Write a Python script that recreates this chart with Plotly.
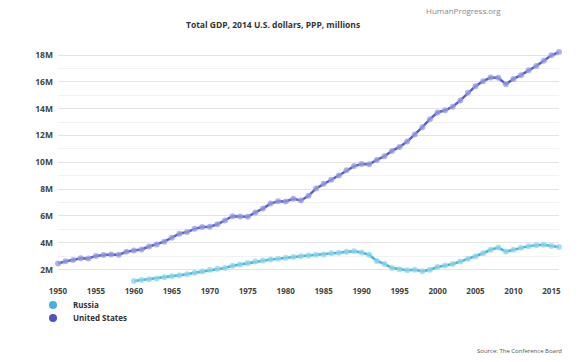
import plotly.graph_objects as go

years_us = list(range(1950, 2017))
us_gdp = [2.45, 2.62, 2.72, 2.84, 2.83, 3.02, 3.08, 3.13, 3.10, 3.33,
          3.42, 3.50, 3.72, 3.88, 4.08, 4.38, 4.68, 4.80, 5.04, 5.18,
          5.20, 5.38, 5.66, 5.98, 5.96, 5.94, 6.26, 6.55, 6.92, 7.10,
          7.08, 7.28, 7.15, 7.50, 8.05, 8.40, 8.70, 9.02, 9.40, 9.72,
          9.88, 9.85, 10.18, 10.45, 10.85, 11.15, 11.55, 12.08, 12.62, 13.22,
          13.72, 13.88, 14.15, 14.62, 15.18, 15.68, 16.05, 16.32, 16.30, 15.82,
          16.22, 16.50, 16.86, 17.18, 17.58, 17.98, 18.22]

years_ru = list(range(1960, 2017))
ru_gdp = [1.15, 1.22, 1.28, 1.33, 1.42, 1.50, 1.58, 1.66, 1.76, 1.85,
          1.98, 2.06, 2.12, 2.28, 2.38, 2.50, 2.60, 2.68, 2.76, 2.80,
          2.88, 2.93, 2.99, 3.06, 3.10, 3.13, 3.21, 3.25, 3.33, 3.36,
          3.27, 3.10, 2.65, 2.42, 2.12, 2.03, 1.96, 1.98, 1.87, 1.99,
          2.19, 2.30, 2.42, 2.60, 2.80, 2.98, 3.22, 3.48, 3.64, 3.34,
          3.48, 3.62, 3.75, 3.82, 3.86, 3.76, 3.68]

x_ticks = list(range(1950, 2016, 5))
y_ticks = [2, 4, 6, 8, 10, 12, 14, 16, 18]
y_ticklabels = [f"{v}M" for v in y_ticks]

title_text = "Total GDP, 2014 U.S. dollars, PPP, millions"
credit_text = "HumanProgress.org"
source_text = "Source: The Conference Board"

RU_LINE = "#4aafd9"
RU_MARK = "rgba(140,215,240,0.75)"
US_LINE = "#5a5fc6"
US_MARK = "rgba(150,155,230,0.75)"
FONT = "Open Sans"

fig = go.Figure()
fig.add_trace(go.Scatter(x=years_us, y=us_gdp, mode="lines+markers", name="United States",
                         line=dict(color=US_LINE, width=2.5),
                         marker=dict(color=US_MARK, size=6),
                         cliponaxis=False, showlegend=False))
fig.add_trace(go.Scatter(x=years_ru, y=ru_gdp, mode="lines+markers", name="Russia",
                         line=dict(color=RU_LINE, width=2.5),
                         marker=dict(color=RU_MARK, size=6),
                         cliponaxis=False, showlegend=False))
# legend entries
fig.add_trace(go.Scatter(x=[None], y=[None], mode="markers", name="Russia",
                         marker=dict(color=RU_LINE, size=8), legend="legend"))
fig.add_trace(go.Scatter(x=[None], y=[None], mode="markers", name="United States",
                         marker=dict(color="#4b54bf", size=8), legend="legend2"))

W, H = 585, 362
ml, mr, mt, mb = 58, 26, 45, 79
pw, ph = W - ml - mr, H - mt - mb

def px_x(p):
    return (p - ml) / pw

def px_y(p):
    return (H - mb - p) / ph

legend_font = dict(family=FONT, size=8, color="#333", weight="bold")

fig.update_layout(
    width=W, height=H,
    margin=dict(l=ml, r=mr, t=mt, b=mb, pad=0),
    paper_bgcolor="white", plot_bgcolor="white",
    font=dict(family=FONT),
    hovermode=False,
    xaxis=dict(range=[1950, 2016], tickmode="array", tickvals=x_ticks,
               ticktext=[str(t) for t in x_ticks], showgrid=False, zeroline=False,
               showline=False, ticks="", tickfont=dict(family=FONT, size=8, color="#444", weight="bold"),
               ticklabelstandoff=2),
    yaxis=dict(range=[1, 18.75], tickmode="array", tickvals=y_ticks, ticktext=y_ticklabels,
               showgrid=True, gridcolor="#e4e4e4", gridwidth=1, zeroline=False, showline=False,
               ticks="", tickfont=dict(family=FONT, size=8.5, color="#444", weight="bold"),
               ticklabelstandoff=4,
               minor=dict(dtick=1, tick0=0, showgrid=True, gridcolor="#f2f2f2", gridwidth=1)),
    legend=dict(x=px_x(33), y=px_y(305), xanchor="left", yanchor="middle",
                font=legend_font, bgcolor="rgba(0,0,0,0)", itemwidth=30),
    legend2=dict(x=px_x(33), y=px_y(318), xanchor="left", yanchor="middle",
                 font=legend_font, bgcolor="rgba(0,0,0,0)", itemwidth=30),
    annotations=[
        dict(text=title_text, xref="paper", yref="paper", x=px_x(273), y=px_y(24),
             xanchor="center", yanchor="middle", showarrow=False,
             font=dict(family=FONT, size=8.5, color="#333", weight="bold")),
        dict(text=credit_text, xref="paper", yref="paper", x=px_x(503), y=px_y(10),
             xanchor="right", yanchor="middle", showarrow=False,
             font=dict(family=FONT, size=8, color="#888")),
        dict(text=source_text, xref="paper", yref="paper", x=px_x(564), y=px_y(351),
             xanchor="right", yanchor="middle", showarrow=False,
             font=dict(family=FONT, size=6, color="#555")),
    ],
)

# remove the default page margin so the 585x362 figure fills the window exactly
fig.write_html("out.html", config={"displayModeBar": False},
               post_script="document.body.style.margin='0';")
